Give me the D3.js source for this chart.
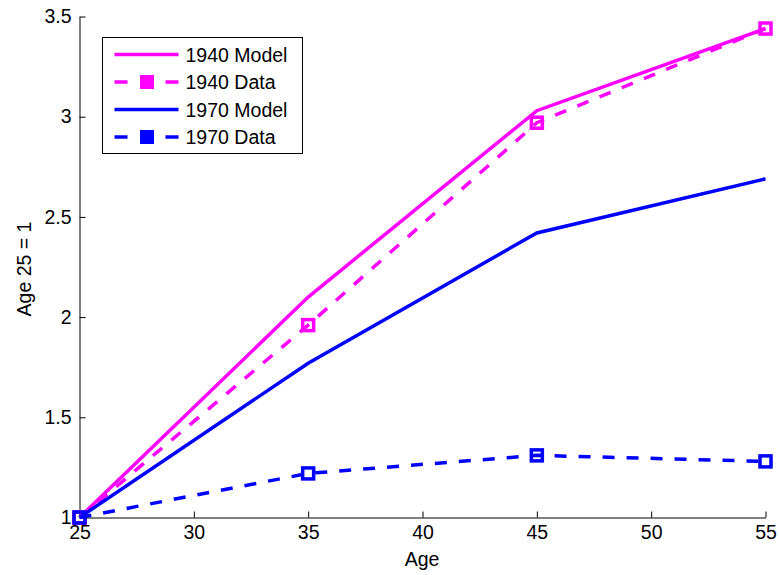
<!DOCTYPE html>
<head>
  <meta charset="utf-8">
  <script src="https://d3js.org/d3.v7.min.js"></script>
  <style>
    body { margin: 0; background: #fff; }
    text { font-family: "Liberation Sans", Arial, sans-serif; fill: #000; }
    .axis path, .axis line { stroke: #000; stroke-width: 1; }
    .axis text { font-size: 19.5px; font-family: "Liberation Sans", Arial, sans-serif; }
  </style>
</head>
<body>
  <script>
    // Data
    var ages = [25, 35, 45, 55];
    var model1940 = [1, 2.10, 3.03, 3.44];
    var data1940 = [1, 1.96, 2.97, 3.44];
    var model1970 = [1, 1.77, 2.42, 2.69];
    var data1970 = [1, 1.22, 1.31, 1.28];
    var xTicks = [25, 30, 35, 40, 45, 50, 55];
    var yTicks = [1, 1.5, 2, 2.5, 3, 3.5];

    var series = [
      {name: "1940 Model", values: model1940, color: "#ff00ff", dashed: false},
      {name: "1940 Data", values: data1940, color: "#ff00ff", dashed: true},
      {name: "1970 Model", values: model1970, color: "#0000ff", dashed: false},
      {name: "1970 Data", values: data1970, color: "#0000ff", dashed: true}
    ];

    var svg = d3.select("body").append("svg")
      .attr("width", 779)
      .attr("height", 575);

    var x = d3.scaleLinear().domain([25, 55]).range([79.5, 765.5]);
    var y = d3.scaleLinear().domain([1, 3.5]).range([517.5, 16.5]);

    // axes (ticks pointing inward)
    svg.append("g")
      .attr("class", "axis")
      .attr("transform", "translate(0,517.5)")
      .call(d3.axisBottom(x).tickValues(xTicks).tickSizeInner(-6).tickSizeOuter(0).tickPadding(8)
        .tickFormat(d3.format("d")));

    svg.append("g")
      .attr("class", "axis")
      .attr("transform", "translate(79.5,0)")
      .call(d3.axisLeft(y).tickValues(yTicks).tickSizeInner(-6).tickSizeOuter(0).tickPadding(8)
        .tickFormat(function(d) { return d3.format("")(d); }));

    var line = d3.line()
      .x(function(d, i) { return x(ages[i]); })
      .y(function(d) { return y(d); });

    var plot = svg.append("g");

    series.forEach(function(s) {
      plot.append("path")
        .datum(s.values)
        .attr("d", line)
        .attr("fill", "none")
        .attr("stroke", s.color)
        .attr("stroke-width", 3.5)
        .attr("stroke-dasharray", s.dashed ? "12,12" : null);

      if (s.dashed) {
        plot.selectAll(null).data(s.values).enter()
          .append("rect")
          .attr("x", function(d, i) { return x(ages[i]) - 5.5; })
          .attr("y", function(d) { return y(d) - 5.5; })
          .attr("width", 11)
          .attr("height", 11)
          .attr("fill", "none")
          .attr("stroke", s.color)
          .attr("stroke-width", 3.5);
      }
    });

    // axis labels
    svg.append("text")
      .attr("x", 422)
      .attr("y", 566)
      .attr("text-anchor", "middle")
      .style("font-size", "19.5px")
      .text("Age");

    svg.append("text")
      .attr("transform", "translate(31,269) rotate(-90)")
      .attr("text-anchor", "middle")
      .style("font-size", "19.5px")
      .text("Age 25 = 1");

    // legend
    var legend = svg.append("g").attr("transform", "translate(102.5,37.5)");
    legend.append("rect")
      .attr("width", 200)
      .attr("height", 116)
      .attr("fill", "#fff")
      .attr("stroke", "#000")
      .attr("stroke-width", 1);

    var rows = legend.selectAll(".row").data(series).enter()
      .append("g")
      .attr("class", "row")
      .attr("transform", function(d, i) { return "translate(0," + (17 + i * 27.5) + ")"; });

    rows.append("line")
      .attr("x1", 12).attr("x2", 76)
      .attr("stroke", function(d) { return d.color; })
      .attr("stroke-width", 3.5)
      .attr("stroke-dasharray", function(d) { return d.dashed ? "13,38,13" : null; });

    rows.filter(function(d) { return d.dashed; })
      .append("rect")
      .attr("x", 38.5).attr("y", -6)
      .attr("width", 12).attr("height", 12)
      .attr("fill", function(d) { return d.color; })
      .attr("stroke", function(d) { return d.color; })
      .attr("stroke-width", 2);

    rows.append("text")
      .attr("x", 83)
      .attr("y", 7)
      .style("font-size", "19.5px")
      .text(function(d) { return d.name; });
  </script>
</body>
